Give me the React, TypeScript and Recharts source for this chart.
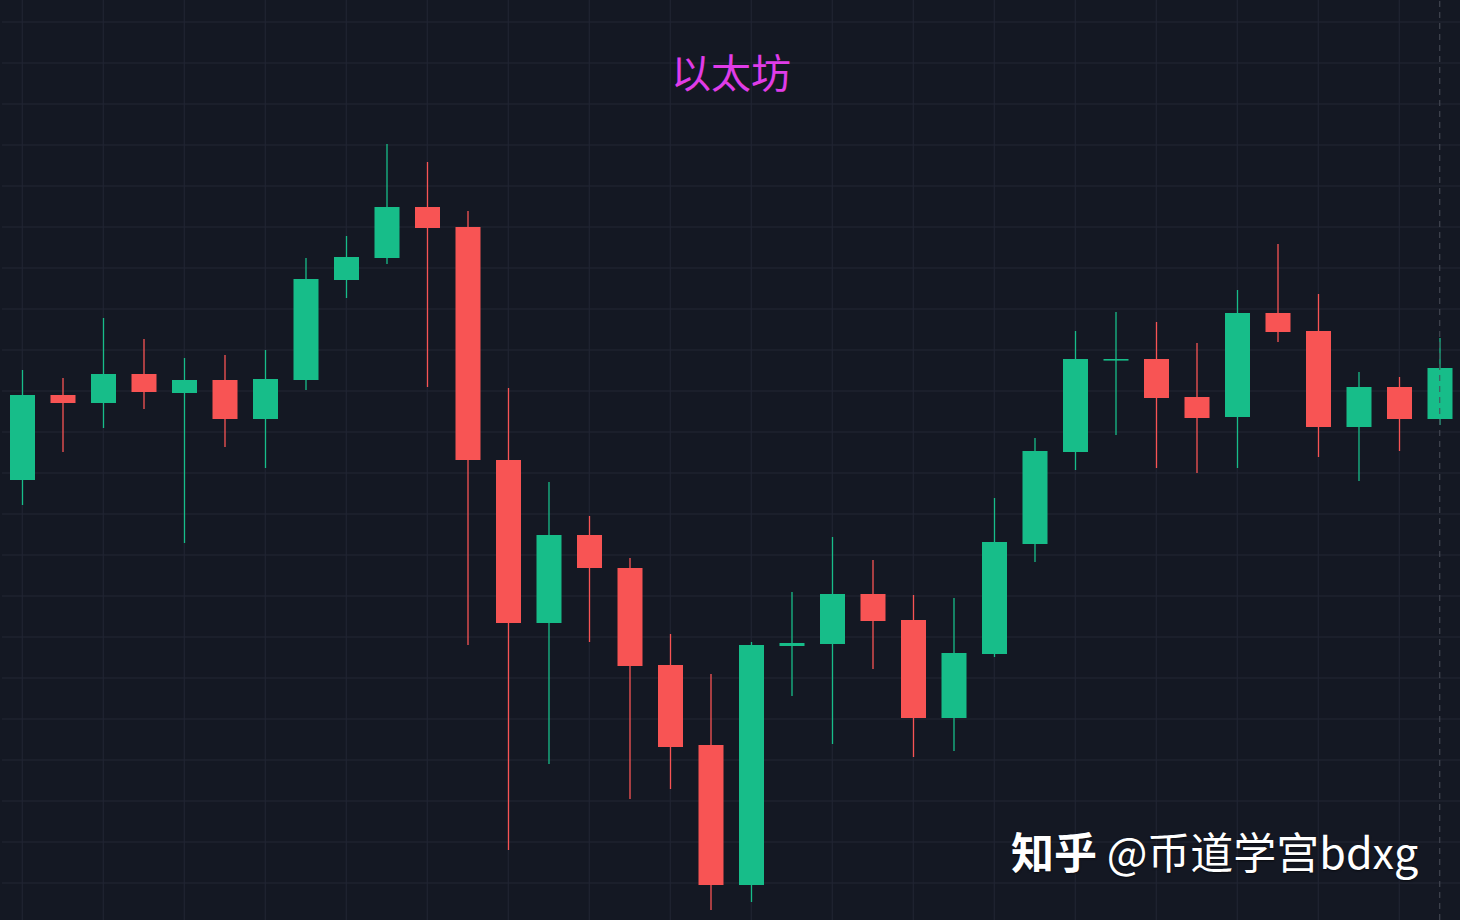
import React from 'react';
import { ComposedChart, Bar, XAxis, YAxis, ReferenceLine } from 'recharts';

const categories = [
  'D1', 'D2', 'D3', 'D4', 'D5', 'D6', 'D7', 'D8', 'D9', 'D10', 'D11', 'D12',
  'D13', 'D14', 'D15', 'D16', 'D17', 'D18', 'D19', 'D20', 'D21', 'D22', 'D23', 'D24',
  'D25', 'D26', 'D27', 'D28', 'D29', 'D30', 'D31', 'D32', 'D33', 'D34', 'D35', 'D36',
];
const opens = [
  440, 525, 517, 546, 527, 540, 501, 540, 640, 662, 713, 693,
  460, 297, 385, 352, 255, 175, 35, 274, 276, 326, 300, 202,
  266, 376, 468, 561, 561, 523, 503, 607, 589, 493, 533, 501,
];
const highs = [
  550, 542, 602, 581, 562, 565, 570, 662, 684, 776, 758, 709,
  532, 438, 404, 362, 286, 246, 278, 328, 383, 360, 325, 322,
  422, 482, 589, 608, 598, 577, 630, 676, 626, 548, 543, 582,
];
const lows = [
  415, 468, 492, 511, 377, 473, 452, 530, 622, 656, 533, 275,
  70, 156, 278, 121, 131, 10, 18, 224, 176, 251, 163, 169,
  263, 358, 450, 485, 452, 447, 452, 578, 463, 439, 469, 495,
];
const closes = [
  525, 517, 546, 528, 540, 501, 541, 641, 663, 713, 692, 460,
  297, 385, 352, 254, 173, 35, 275, 277, 326, 299, 202, 267,
  378, 469, 561, 561, 522, 502, 607, 588, 493, 533, 501, 552,
];
const gridValues = [
  37, 78, 119, 160, 201, 242, 283, 324, 365, 406, 447,
  488, 529, 570, 611, 652, 693, 734, 775, 816, 857, 898,
];

const title = '以太坊';
const watermarkBrand = '知乎';
const watermarkAuthor = '@币道学宫bdxg';

const GREEN = '#17bd89';
const RED = '#f85454';
const BG = '#141823';
const GRID = '#222634';

const data = categories.map((d, i) => ({
  d,
  o: opens[i],
  h: highs[i],
  l: lows[i],
  c: closes[i],
  range: [lows[i], highs[i]],
}));

const evenTicks = categories.filter((_, i) => i % 2 === 0);

const Candle = (props: any) => {
  const { x, y, width, height, payload } = props;
  if (!payload) return null;
  const { o, h, l, c } = payload;
  const up = c >= o;
  const color = up ? GREEN : RED;
  const yTop = height < 0 ? y + height : y;
  const hAbs = Math.abs(height);
  const span = h - l;
  const ppu = span > 0 ? hAbs / span : 0;
  const bodyTop = yTop + (h - Math.max(o, c)) * ppu;
  const bodyH = Math.max(Math.abs(o - c) * ppu, 1.6);
  const cx = x + width / 2;
  return (
    <g>
      <line x1={cx} x2={cx} y1={yTop} y2={yTop + hAbs} stroke={color} strokeWidth={1.3} />
      <rect x={x} y={bodyTop} width={width} height={bodyH} fill={color} />
    </g>
  );
};

const Empty = () => <g />;

const MARGIN = { top: 0, right: 0, left: 2, bottom: 0 };
const layer: React.CSSProperties = { position: 'absolute', left: 0, top: 0 };

export default function App() {
  return (
    <div
      style={{
        position: 'absolute',
        left: 0,
        top: 0,
        width: 1460,
        height: 920,
        background: BG,
        overflow: 'hidden',
        fontFamily: '"Noto Sans CJK SC", "Noto Sans", sans-serif',
      }}
    >
      <div style={layer}>
        <ComposedChart width={1460} height={920} data={data} margin={MARGIN}>
          <XAxis dataKey="d" type="category" hide />
          <YAxis type="number" domain={[0, 920]} allowDataOverflow hide />
          {gridValues.map((v) => (
            <ReferenceLine key={'h' + v} y={v} stroke={GRID} strokeWidth={1} />
          ))}
          {evenTicks.map((c) => (
            <ReferenceLine key={'v' + c} x={c} stroke={GRID} strokeWidth={1} />
          ))}
          <Bar dataKey="range" barSize={25} shape={<Empty />} isAnimationActive={false} />
        </ComposedChart>
      </div>
      <div style={layer}>
        <ComposedChart width={1460} height={920} data={data} margin={MARGIN}>
          <XAxis dataKey="d" type="category" hide />
          <YAxis type="number" domain={[0, 920]} allowDataOverflow hide />
          <Bar dataKey="range" barSize={25} shape={<Candle />} isAnimationActive={false} />
          <ReferenceLine
            x={categories[categories.length - 1]}
            stroke="#4a4e5a"
            strokeDasharray="6 5"
            strokeWidth={1}
          />
        </ComposedChart>
      </div>
      <div
        style={{
          position: 'absolute',
          left: 0,
          top: 45,
          width: 1462,
          textAlign: 'center',
          color: '#e03ce8',
          fontSize: 40,
          lineHeight: '52px',
        }}
      >
        {title}
      </div>
      <div
        style={{
          position: 'absolute',
          left: 1011,
          top: 818,
          color: '#ffffff',
          fontSize: 43,
          lineHeight: '64px',
          whiteSpace: 'nowrap',
          textShadow: '0 1px 2px rgba(0,0,0,0.6)',
        }}
      >
        <span style={{ fontWeight: 700 }}>{watermarkBrand}</span>
        <span> {watermarkAuthor}</span>
      </div>
    </div>
  );
}
